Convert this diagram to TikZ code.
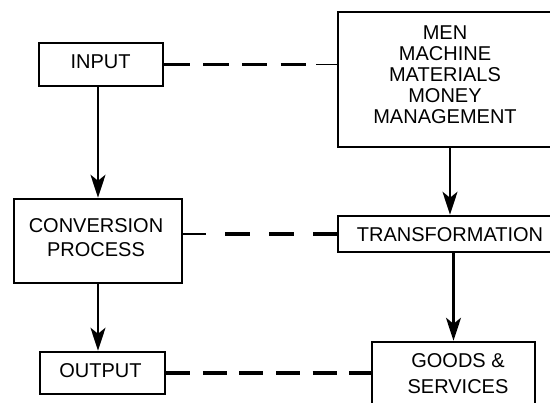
\documentclass[tikz,border=0pt]{standalone}
\usepackage{fontspec}
\setmainfont{Liberation Sans}
\usetikzlibrary{arrows.meta}
\begin{document}
\begin{tikzpicture}[x=1pt,y=-1pt,
  box/.style={draw, line width=2.5pt, inner sep=0pt},
  lbl/.style={inner sep=0pt, align=center},
  arr/.style={line width=2.3pt, -{Stealth[length=23pt,width=15pt,inset=6pt]}},
  dsh/.style={line width=3.4pt},
  stub/.style={line width=1.9pt}]
\useasboundingbox (0,0) rectangle (550,403);
\clip (0,0) rectangle (550,403);

% left column
\node[box, minimum width=124pt, minimum height=43pt] (input)  at (101,64.5) {};
\node[box, minimum width=168pt, minimum height=84pt] (conv)   at (98,241)   {};
\node[box, minimum width=125pt, minimum height=42pt] (output) at (102.5,373) {};

% right column
\node[box, minimum width=214pt, minimum height=135pt] (men)   at (445,79.5) {};
\node[box, minimum width=224pt, minimum height=36pt]  (trans) at (450,234)  {};
\node[box, minimum width=163pt, minimum height=98pt]  (goods) at (453.5,391) {};

% labels
\node[lbl, font=\fontsize{20}{21}\selectfont] (tinput) at (100.5,62) {INPUT};
\node[lbl, font=\fontsize{20}{24.4}\selectfont] (tconv) at (96,237.5) {CONVERSION\\PROCESS};
\node[lbl, font=\fontsize{20}{21}\selectfont] (toutput) at (100.5,371) {OUTPUT};
\node[lbl, font=\fontsize{20}{21}\selectfont] (tmen) at (445,75) {MEN\\MACHINE\\MATERIALS\\MONEY\\MANAGEMENT};
\node[lbl, font=\fontsize{20}{21}\selectfont] (ttrans) at (450,235) {TRANSFORMATION};
\node[lbl, font=\fontsize{20}{25.3}\selectfont] (tgoods) at (458,373.7) {GOODS \&\\SERVICES};

% flow arrows
\draw[arr] (input.south -| conv.north) -- (conv.north);
\draw[arr] (conv.south) -- (conv.south |- output.north);
\draw[arr] (men.south -| trans.north) -- (trans.north);
\draw[arr] (trans.south -| goods.north) -- (goods.north);

% dashed links between the columns
\coordinate (c1) at (316,64.5);
\draw[dsh, dash pattern=on 25.5pt off 13.3pt] (input.east) -- (c1);
\draw[stub] (c1) -- (c1 -| men.west);

\coordinate (c2) at (206,234);
\draw[stub] (conv.east |- c2) -- (c2);
\draw[dsh, dash pattern=on 25pt off 19pt, dash phase=25pt] (c2) -- (c2 -| trans.west);

\draw[dsh, dash pattern=on 24pt off 12.6pt] (output.east) -- (output.east -| goods.west);
\end{tikzpicture}
\end{document}
